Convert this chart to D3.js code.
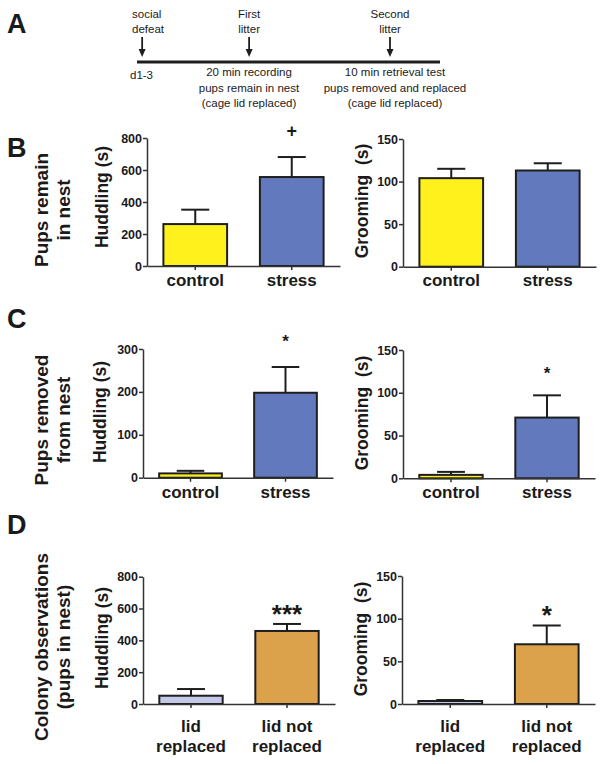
<!DOCTYPE html>
<html><head><meta charset="utf-8">
<script src="https://cdn.jsdelivr.net/npm/d3@7"></script>
<style>
body{margin:0;background:#fff}
svg{display:block}
text{font-family:"Liberation Sans",Arial,Helvetica,sans-serif;fill:#1a1a1a}
</style>
</head><body>
<svg id="fig" width="604" height="764"></svg>
<script>
// ---------------- data ----------------
const stressGroups = ["control", "stress"];
const colonyGroups = ["lid replaced", "lid not replaced"];
const colonyGroupLines = [["lid", "replaced"], ["lid not", "replaced"]];

const huddlingRemainMean = [262, 556];
const huddlingRemainSem  = [90, 125];
const groomingRemainMean = [104, 113];
const groomingRemainSem  = [11, 8.5];

const huddlingRemovedMean = [10, 198];
const huddlingRemovedSem  = [6, 60];
const groomingRemovedMean = [4, 71];
const groomingRemovedSem  = [3.5, 26];

const huddlingColonyMean = [52, 459];
const huddlingColonySem  = [42, 44];
const groomingColonyMean = [3.5, 70];
const groomingColonySem  = [1.2, 22];

const ticks800 = [0, 200, 400, 600, 800];
const ticks300 = [0, 100, 200, 300];
const ticks150 = [0, 50, 100, 150];

const sigRemainHuddling  = ["", "+"];
const sigRemainGrooming  = ["", ""];
const sigRemovedHuddling = ["", "*"];
const sigRemovedGrooming = ["", "*"];
const sigColonyHuddling  = ["", "***"];
const sigColonyGrooming  = ["", "*"];

const timelineTop = [["social", "defeat"], ["First", "litter"], ["Second", "litter"]];
const timelineBottom = [["d1-3"],
  ["20 min recording", "pups remain in nest", "(cage lid replaced)"],
  ["10 min retrieval test", "pups removed and replaced", "(cage lid replaced)"]];

const panelLetters = ["A", "B", "C", "D"];
const rowLabels = [["Pups remain", "in nest"], ["Pups removed", "from nest"], ["Colony observations", "(pups in nest)"]];

// ---------------- styles / layout ----------------
const yellow = "#fff21c", blue = "#6379be", lavender = "#c4c9e9", gold = "#dba24b";
const ink = "#1e1e1e";
const svg = d3.select("#fig");

// Panel letters
const letterPos = [[7, 33], [7, 157], [7, 328], [7, 534]];
svg.selectAll("text.letter").data(panelLetters).join("text")
  .attr("class", "letter")
  .attr("x", (d, i) => letterPos[i][0]).attr("y", (d, i) => letterPos[i][1])
  .style("font-size", "27px").style("font-weight", "bold").text(d => d);

// Row labels
const rowLabelCenters = [210, 420, 647];
const rowLabelX = [41, 63];
rowLabels.forEach((lines, r) => {
  lines.forEach((t, k) => {
    svg.append("text")
      .attr("transform", `translate(${rowLabelX[k]},${rowLabelCenters[r]}) rotate(-90)`)
      .attr("text-anchor", "middle").attr("dy", "0.35em")
      .style("font-size", "19px").style("font-weight", "bold").text(t);
  });
});

// ---------------- timeline (panel A) ----------------
(function () {
  const tl = d3.scaleLinear().domain([0, 1]).range([137, 440]);
  const eventPos = [0.017, 0.37, 0.835];
  const lineY = 62;
  const g = svg.append("g");
  g.append("line").attr("x1", tl(0)).attr("x2", tl(1)).attr("y1", lineY).attr("y2", lineY)
    .attr("stroke", ink).attr("stroke-width", 3);
  eventPos.forEach((p, i) => {
    const x = tl(p);
    g.append("line").attr("x1", x).attr("x2", x).attr("y1", 37).attr("y2", 51)
      .attr("stroke", ink).attr("stroke-width", 1.8);
    g.append("path").attr("d", `M${x - 3.5},49 L${x + 3.5},49 L${x},57 Z`).attr("fill", ink);
    const anchor = i === 0 ? "start" : "middle";
    const tx = i === 0 ? 132 : x;
    timelineTop[i].forEach((t, k) => {
      g.append("text").attr("x", tx).attr("y", 17.5 + k * 15)
        .attr("text-anchor", anchor).style("font-size", "11.5px").text(t);
    });
  });
  const bottomX = [130, 249, 395];
  timelineBottom.forEach((lines, i) => {
    lines.forEach((t, k) => {
      g.append("text").attr("x", bottomX[i]).attr("y", (i === 0 ? 79 : 76) + k * 15.5)
        .attr("text-anchor", i === 0 ? "start" : "middle")
        .style("font-size", "11.5px").text(t);
    });
  });
})();

// ---------------- bar charts ----------------
function drawChart(cfg) {
  const g = svg.append("g");
  const x = d3.scaleBand().domain(cfg.cats).range([cfg.left, cfg.right])
    .paddingInner(0.34).paddingOuter(0.17);
  const y = d3.scaleLinear().domain([0, cfg.max]).range([cfg.base, cfg.top]);
  const bw = x.bandwidth();
  const capW = bw * 0.44;

  // error bars (upper only)
  cfg.cats.forEach((c, i) => {
    const cx = x(c) + bw / 2;
    const yTop = y(cfg.mean[i] + cfg.sem[i]);
    g.append("line").attr("x1", cx).attr("x2", cx)
      .attr("y1", y(cfg.mean[i])).attr("y2", yTop)
      .attr("stroke", ink).attr("stroke-width", 2);
    g.append("line").attr("x1", cx - capW / 2).attr("x2", cx + capW / 2)
      .attr("y1", yTop).attr("y2", yTop)
      .attr("stroke", ink).attr("stroke-width", 2);
    if (cfg.sig[i]) {
      g.append("text").attr("x", cx).attr("y", yTop - cfg.sigOffset)
        .attr("text-anchor", "middle")
        .style("font-size", cfg.sigSize + "px").style("font-weight", "bold")
        .text(cfg.sig[i]);
    }
  });

  // bars
  g.selectAll("rect.bar").data(cfg.cats).join("rect")
    .attr("class", "bar")
    .attr("x", d => x(d)).attr("width", bw)
    .attr("y", (d, i) => y(cfg.mean[i]))
    .attr("height", (d, i) => cfg.base - y(cfg.mean[i]))
    .attr("fill", (d, i) => cfg.colors[i])
    .attr("stroke", ink).attr("stroke-width", 2);

  // y axis
  const ya = g.append("g").attr("transform", `translate(${cfg.left},0)`)
    .call(d3.axisLeft(y).tickValues(cfg.ticks).tickSize(4).tickSizeOuter(0).tickPadding(1)
      .tickFormat(d3.format("d")));
  // x axis
  const xa = g.append("g").attr("transform", `translate(0,${cfg.base})`)
    .call(d3.axisBottom(x).tickSize(4).tickSizeOuter(0).tickFormat(""));
  [ya, xa].forEach(a => {
    a.select(".domain").attr("stroke", "#333").attr("stroke-width", 1.5);
    a.selectAll(".tick line").attr("stroke", "#333").attr("stroke-width", 1.5);
  });
  ya.selectAll(".tick text").style("font-size", "12.5px").style("font-weight", "bold")
    .style("font-family", '"Liberation Sans",Arial,sans-serif').attr("fill", "#1a1a1a");

  // category labels
  cfg.cats.forEach((c, i) => {
    const lines = cfg.catLines ? cfg.catLines[i] : [c];
    lines.forEach((t, k) => {
      g.append("text").attr("x", x(c) + bw / 2)
        .attr("y", cfg.base + cfg.catOffset + k * 20)
        .attr("text-anchor", "middle")
        .style("font-size", "17px").style("font-weight", "bold").text(t);
    });
  });

  // y label
  g.append("text")
    .attr("transform", `translate(${cfg.labelX},${cfg.labelY}) rotate(-90)`)
    .attr("text-anchor", "middle").attr("dy", "0.35em")
    .style("font-size", "17.5px").style("font-weight", "bold")
    .style("white-space", "pre").attr("xml:space", "preserve")
    .text(cfg.label);
}

const charts = [
  {cats: stressGroups, mean: huddlingRemainMean, sem: huddlingRemainSem, ticks: ticks800, max: 800,
   colors: [yellow, blue], sig: sigRemainHuddling, sigOffset: 20, sigSize: 18,
   left: 147, right: 340, base: 266, top: 138, catOffset: 19.5,
   label: "Huddling (s)", labelX: 102, labelY: 197},
  {cats: stressGroups, mean: groomingRemainMean, sem: groomingRemainSem, ticks: ticks150, max: 150,
   colors: [yellow, blue], sig: sigRemainGrooming, sigOffset: 20, sigSize: 18,
   left: 403, right: 596, base: 266.7, top: 139, catOffset: 19.5,
   label: "Grooming  (s)", labelX: 362, labelY: 201},
  {cats: stressGroups, mean: huddlingRemovedMean, sem: huddlingRemovedSem, ticks: ticks300, max: 300,
   colors: [yellow, blue], sig: sigRemovedHuddling, sigOffset: 20, sigSize: 17,
   left: 143, right: 333, base: 477.7, top: 349, catOffset: 20,
   label: "Huddling (s)", labelX: 100, labelY: 412},
  {cats: stressGroups, mean: groomingRemovedMean, sem: groomingRemovedSem, ticks: ticks150, max: 150,
   colors: [yellow, blue], sig: sigRemovedGrooming, sigOffset: 16, sigSize: 17,
   left: 403, right: 595, base: 478.3, top: 350, catOffset: 20,
   label: "Grooming  (s)", labelX: 362, labelY: 413},
  {cats: colonyGroups, catLines: colonyGroupLines, mean: huddlingColonyMean, sem: huddlingColonySem,
   ticks: ticks800, max: 800, colors: [lavender, gold], sig: sigColonyHuddling, sigOffset: 0.5, sigSize: 26,
   left: 143, right: 335, base: 704, top: 576.7, catOffset: 27.7,
   label: "Huddling (s)", labelX: 102, labelY: 638},
  {cats: colonyGroups, catLines: colonyGroupLines, mean: groomingColonyMean, sem: groomingColonySem,
   ticks: ticks150, max: 150, colors: [lavender, gold], sig: sigColonyGrooming, sigOffset: 1, sigSize: 26,
   left: 402, right: 595, base: 704, top: 576, catOffset: 27.7,
   label: "Grooming  (s)", labelX: 361, labelY: 639}
];
charts.forEach(drawChart);
</script>
</body></html>
